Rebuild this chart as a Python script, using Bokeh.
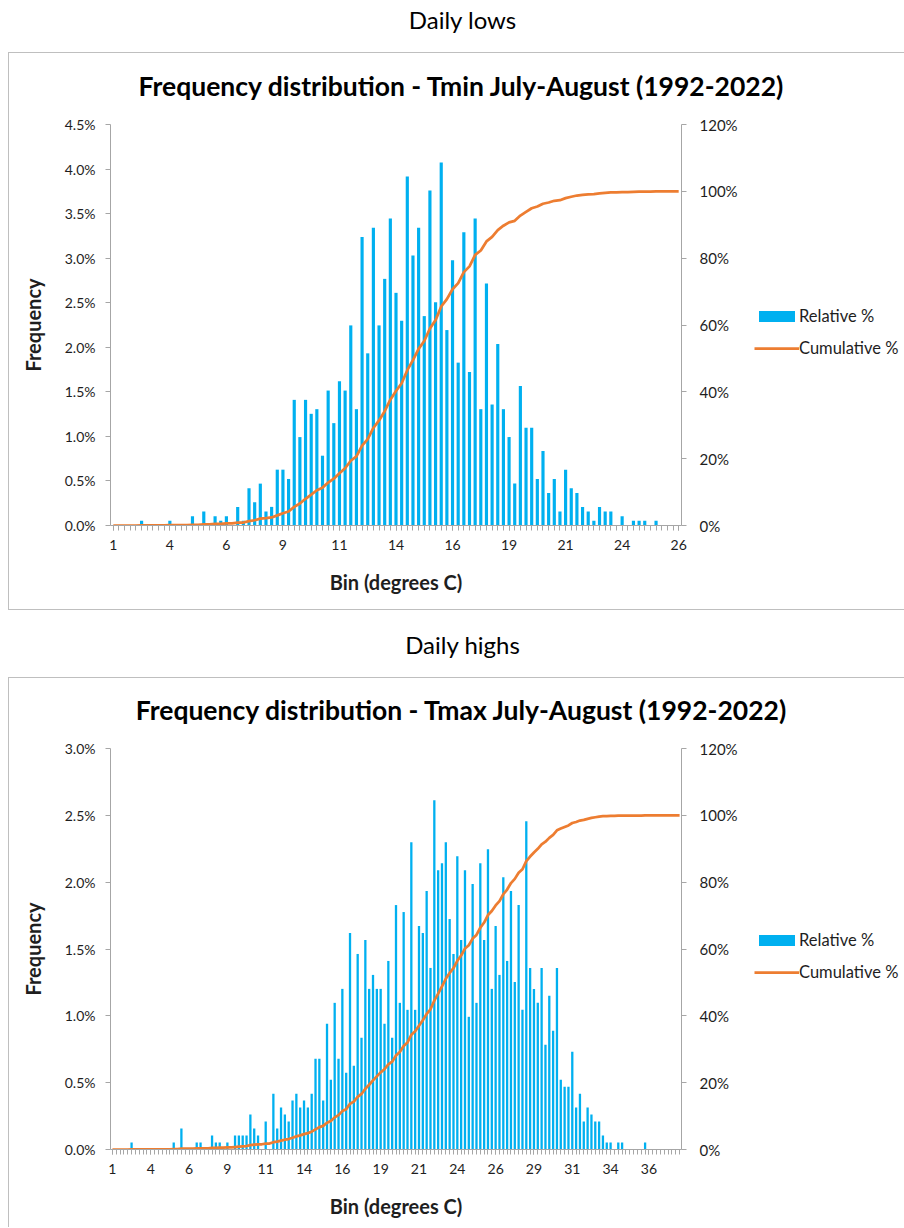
import numpy as np
from bokeh.plotting import figure
from bokeh.models import (Range1d, LinearAxis, FixedTicker, PrintfTickFormatter,
                          Legend, LegendItem, Div, ColumnDataSource, Spacer)
from bokeh.layouts import column, row
from bokeh.embed import file_html
from bokeh.resources import INLINE

# ---------------- data (days per 0.25 degC bin, July-August 1992-2022) ----------------
tmin_bins = [1 + 0.25 * k for k in range(101)]          # 1.00 ... 26.00
tmin_days = [
    0, 0, 0, 0, 0, 1, 0, 0, 0, 0,
    1, 0, 0, 0, 2, 0, 3, 0, 2, 1,
    2, 0, 4, 1, 8, 5, 9, 3, 4, 12,
    12, 10, 27, 19, 27, 24, 25, 15, 29, 22,
    31, 29, 43, 25, 62, 37, 64, 43, 53, 66,
    50, 44, 75, 58, 64, 45, 72, 48, 78, 42,
    57, 35, 63, 33, 66, 25, 52, 26, 39, 25,
    19, 9, 30, 21, 21, 10, 16, 7, 10, 3,
    12, 8, 7, 4, 3, 1, 4, 3, 3, 0,
    2, 0, 1, 1, 1, 0, 1, 0, 0, 0,
    0,
]

tmax_bins = [1 + 0.25 * k for k in range(149)]          # 1.00 ... 38.00
tmax_days = [
    0, 0, 0, 0, 0, 1, 0, 0, 0, 0,
    0, 0, 0, 0, 0, 0, 1, 0, 3, 0,
    0, 0, 1, 1, 0, 0, 2, 1, 1, 0,
    1, 0, 2, 2, 2, 2, 5, 3, 2, 0,
    4, 0, 8, 3, 6, 5, 4, 7, 8, 6,
    7, 6, 8, 13, 13, 7, 18, 10, 21, 13,
    23, 11, 31, 12, 28, 16, 30, 23, 25, 23,
    23, 18, 27, 16, 35, 21, 34, 20, 44, 20,
    32, 31, 37, 26, 50, 40, 41, 44, 33, 28,
    42, 30, 40, 19, 38, 21, 41, 30, 43, 23,
    32, 25, 39, 27, 37, 24, 35, 20, 47, 26,
    23, 21, 26, 15, 22, 17, 26, 10, 9, 9,
    14, 6, 8, 4, 6, 5, 4, 4, 2, 1,
    1, 0, 1, 1, 0, 0, 0, 0, 0, 1,
    0, 0, 0, 0, 0, 0, 0, 0, 0,
]

x_tick_values = [1, 3.5, 6, 8.5, 11, 13.5, 16, 18.5, 21, 23.5, 26, 28.5, 31, 33.5, 36]
x_tick_labels = ["1", "4", "6", "9", "11", "14", "16", "19", "21", "24", "26", "29", "31", "34", "36"]
tmin_freq_ticks = [0.0, 0.5, 1.0, 1.5, 2.0, 2.5, 3.0, 3.5, 4.0, 4.5]
tmax_freq_ticks = [0.0, 0.5, 1.0, 1.5, 2.0, 2.5, 3.0]
cum_ticks = [0, 20, 40, 60, 80, 100, 120]
series_names = ["Relative %", "Cumulative %"]

FONT = "Lato"
BLUE = "#00B0F0"
ORANGE = "#ED7D31"
AXIS = "#A6A6A6"
TXT = "#1E1E1E"
BORDER = "1px solid #BFBFBF"
LINE_W = 2.75


def main_plot(bins, days, freq_ticks, bar_w, height, top_b, bottom_b):
    total = float(sum(days))
    rel = [d / total * 100 for d in days]
    cum = list(np.cumsum(days) / total * 100)
    src = ColumnDataSource(dict(bin=bins, rel=rel, cum=cum))
    half = (bins[1] - bins[0]) / 2
    p = figure(width=743, height=height, output_backend="svg", toolbar_location=None,
               x_range=Range1d(bins[0] - half, bins[-1] + half),
               y_range=Range1d(freq_ticks[0], freq_ticks[-1]),
               min_border_left=101, min_border_right=71,
               min_border_top=top_b, min_border_bottom=bottom_b)
    p.margin = 0
    p.extra_y_ranges = {"cum": Range1d(cum_ticks[0], cum_ticks[-1])}
    p.vbar(x="bin", top="rel", width=bar_w, source=src, fill_color=BLUE, line_color=None)
    p.line(x="bin", y="cum", y_range_name="cum", source=src, line_color=ORANGE, line_width=LINE_W)

    p.xgrid.visible = False
    p.ygrid.visible = False
    p.outline_line_color = None
    p.background_fill_color = "white"
    p.border_fill_color = "white"

    xt = [v for v in x_tick_values if v <= bins[-1]]
    xa = p.xaxis[0]
    xa.ticker = FixedTicker(ticks=xt, minor_ticks=bins)
    xa.major_label_overrides = {v: lab for v, lab in zip(x_tick_values, x_tick_labels) if v <= bins[-1]}
    xa.axis_label = "Bin (degrees C)"
    xa.major_label_text_font_size = "14px"
    xa.major_label_standoff = 9
    xa.axis_label_standoff = 17

    ya = p.yaxis[0]
    ya.ticker = FixedTicker(ticks=freq_ticks)
    ya.formatter = PrintfTickFormatter(format="%.1f%%")
    ya.axis_label = "Frequency"
    ya.major_label_text_font_size = "14px"
    ya.major_label_standoff = 10
    ya.axis_label_standoff = 17

    ra = LinearAxis(y_range_name="cum", ticker=FixedTicker(ticks=cum_ticks),
                    formatter=PrintfTickFormatter(format="%d%%"))
    ra.major_label_text_font_size = "15px"
    ra.major_label_standoff = 13
    p.add_layout(ra, "right")

    for ax in (xa, ya, ra):
        ax.axis_line_color = AXIS
        ax.major_tick_line_color = AXIS
        ax.minor_tick_line_color = AXIS
        ax.major_tick_in = 0
        ax.major_tick_out = 5
        ax.minor_tick_in = 0
        ax.minor_tick_out = 5
        ax.major_label_text_font = FONT
        ax.major_label_text_color = TXT
        ax.axis_label_text_font = FONT
        ax.axis_label_text_font_style = "bold"
        ax.axis_label_text_font_size = "20px"
        ax.axis_label_text_color = TXT
    ya.minor_tick_line_color = None
    ra.minor_tick_line_color = None
    return p


def legend_plot(height, bottom_offset, bar_w):
    # a narrow, axis-less panel that only holds the legend (its frame lines up with the chart frame)
    q = figure(width=152, height=height, output_backend="svg", toolbar_location=None,
               x_range=Range1d(0, 1), y_range=Range1d(0, 1),
               x_axis_type=None, y_axis_type=None,
               min_border_left=0, min_border_right=0, min_border_top=0, min_border_bottom=0)
    q.margin = 0
    q.xgrid.visible = False
    q.ygrid.visible = False
    q.outline_line_color = None
    q.background_fill_color = "white"
    q.border_fill_color = "white"
    key = ColumnDataSource(dict(x=[0.0], y=[0.0]))   # zero-height key entries, nothing visible
    r_bar = q.vbar(x="x", top="y", width=bar_w, source=key, fill_color=BLUE, line_color=None)
    r_line = q.line(x="x", y="y", source=key, line_color=ORANGE, line_width=LINE_W)
    legend = Legend(items=[LegendItem(label=series_names[0], renderers=[r_bar]),
                           LegendItem(label=series_names[1], renderers=[r_line])],
                    location=(2, bottom_offset), orientation="vertical",
                    border_line_color=None, background_fill_alpha=0,
                    glyph_width=45, glyph_height=14, label_standoff=0,
                    label_text_font=FONT, label_text_font_size="16.5px",
                    label_text_color=TXT, label_height=20, spacing=12,
                    padding=0, margin=0)
    q.add_layout(legend, "center")
    return q


def chart_title(text, pad_top, h):
    d = Div(text=f'<div style="box-sizing:border-box;padding-top:{pad_top}px;padding-left:9px;'
                 f'text-align:center;font-family:Lato;font-size:26.5px;font-weight:bold;'
                 f'line-height:32px;color:#000;width:895px">{text}</div>',
            width=895, height=h)
    d.margin = 0
    return d


def heading(text, pad_top, h):
    d = Div(text=f'<div style="box-sizing:border-box;padding-top:{pad_top}px;padding-left:13px;'
                 f'text-align:center;font-family:Lato;font-size:24px;line-height:28px;'
                 f'color:#000;width:896px">{text}</div>',
            width=896, height=h)
    d.margin = 0
    return d


def chart(title, bins, days, freq_ticks, bar_w, title_pad, plot_h, top_b, bottom_b,
          legend_bottom, borders):
    t = chart_title(title, title_pad, 53)
    p = main_plot(bins, days, freq_ticks, bar_w, plot_h, top_b, bottom_b)
    q = legend_plot(plot_h, legend_bottom, bar_w)
    r = row(p, q, spacing=0)
    r.margin = 0
    c = column(t, r, spacing=0)
    c.margin = 0
    c.styles = borders
    return c


c1 = chart("Frequency distribution - Tmin July-August (1992-2022)", tmin_bins, tmin_days,
           tmin_freq_ticks, 0.14, 17, 503, 18, 84, 167,
           {"border-left": BORDER, "border-top": BORDER, "border-bottom": BORDER})
c2 = chart("Frequency distribution - Tmax July-August (1992-2022)", tmax_bins, tmax_days,
           tmax_freq_ticks, 0.15, 16, 496, 17, 78, 167,
           {"border-left": BORDER, "border-top": BORDER})

col = column(heading("Daily lows", 6, 52), c1, heading("Daily highs", 21, 67), c2, spacing=0)
col.margin = 0
sp = Spacer(width=8, height=10)
sp.margin = 0
layout = row(sp, col, spacing=0)
layout.margin = 0

open("out.html", "w").write(file_html(layout, INLINE))
